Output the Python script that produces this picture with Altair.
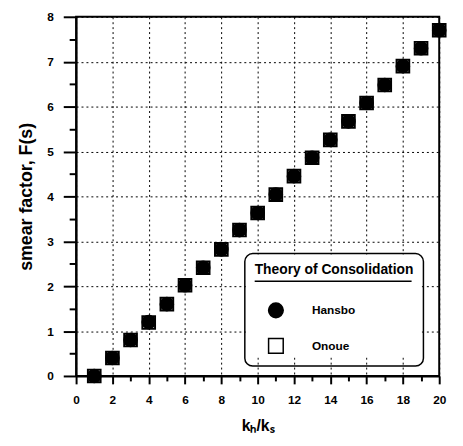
import altair as alt
import pandas as pd

ratio = list(range(1, 21))
hansbo = [0.0, 0.4, 0.8, 1.2, 1.6, 2.02, 2.41, 2.82, 3.25, 3.63,
          4.04, 4.45, 4.86, 5.26, 5.67, 6.08, 6.48, 6.9, 7.3, 7.7]
onoue = [0.0, 0.4, 0.8, 1.19, 1.6, 2.02, 2.41, 2.82, 3.25, 3.63,
         4.04, 4.45, 4.86, 5.26, 5.67, 6.08, 6.48, 6.9, 7.3, 7.7]
series = ["Hansbo", "Onoue"]
x_ticks = list(range(0, 21))
y_ticks = [i * 0.5 for i in range(0, 17)]

rows = []
for name, vals in zip(series, [hansbo, onoue]):
    for r, v in zip(ratio, vals):
        rows.append({"ratio": r, "F": v, "theory": name})
df = pd.DataFrame(rows)

FONT = "Liberation Sans"
W, H = 368, 364

xaxis = alt.Axis(
    values=x_ticks,
    labelExpr="datum.value % 2 == 0 ? format(datum.value, 'd') : ''",
    tickSize={"condition": {"test": "datum.value % 2 == 0", "value": 8}, "value": 5},
    gridOpacity={"condition": {"test": "datum.value % 2 == 0", "value": 1}, "value": 0},
    title="kₕ/kₛ",
    titleFontSize=16,
    titlePadding=12,
    labelPadding=11,
    labelFlush=False,
)
yaxis = alt.Axis(
    values=y_ticks,
    labelExpr="datum.value % 1 == 0 ? format(datum.value, 'd') : ''",
    tickSize={"condition": {"test": "datum.value % 1 == 0", "value": 13}, "value": 7},
    gridOpacity={"condition": {"test": "datum.value % 1 == 0", "value": 1}, "value": 0},
    title="smear factor,  F(s)",
    titleFontSize=18,
    titlePadding=12,
    labelPadding=10,
    labelFlush=False,
)

points = alt.Chart(df).mark_point(strokeWidth=2, opacity=1, fillOpacity=1, size=165).encode(
    x=alt.X("ratio:Q", scale=alt.Scale(domain=[0, 20], nice=False), axis=xaxis),
    y=alt.Y("F:Q", scale=alt.Scale(domain=[0, 8], nice=False), axis=yaxis),
    shape=alt.Shape("theory:N", scale=alt.Scale(domain=series, range=["circle", "square"]),
                    legend=alt.Legend(title="Theory of Consolidation")),
    fill=alt.Fill("theory:N", scale=alt.Scale(domain=series, range=["black", "transparent"]),
                  legend=alt.Legend(title="Theory of Consolidation")),
    stroke=alt.Stroke("theory:N", scale=alt.Scale(domain=series, range=["black", "black"]),
                      legend=alt.Legend(title="Theory of Consolidation")),
)

one = pd.DataFrame({"a": [0]})
legend_bg = alt.Chart(one).mark_rect(fill="white", cornerRadius=8).encode(
    x=alt.value(172), x2=alt.value(349), y=alt.value(241), y2=alt.value(345)
)
underline = alt.Chart(one).mark_rule(color="black", strokeWidth=1.5).encode(
    x=alt.value(181), x2=alt.value(340), y=alt.value(268)
)

chart = alt.layer(points, legend_bg, underline).properties(
    width=W, height=H, padding={"left": 9, "top": 0, "right": 5, "bottom": 5}
).configure_view(
    stroke="black", strokeWidth=2
).configure_axis(
    domainColor="black", domainWidth=2, tickColor="black", tickWidth=2,
    labelFont=FONT, labelFontWeight="bold", labelFontSize=12, labelColor="black",
    titleFont=FONT, titleFontWeight="bold", titleColor="black",
    grid=True, gridColor="black", gridDash=[2, 3], gridWidth=1,
).configure_legend(
    orient="none", legendX=171, legendY=240,
    fillColor="transparent", strokeColor="black", strokeWidth=1.5, cornerRadius=8,
    padding=10, titleFont=FONT, titleFontWeight="bold", titleFontSize=14, titleColor="black",
    labelFont=FONT, labelFontWeight="bold", labelFontSize=12, labelColor="black",
    symbolSize=220, symbolStrokeWidth=1.5, symbolOffset=13, labelOffset=28,
    rowPadding=15, titlePadding=25,
)

chart.save("out.html", embed_options={"renderer": "svg", "actions": False})
